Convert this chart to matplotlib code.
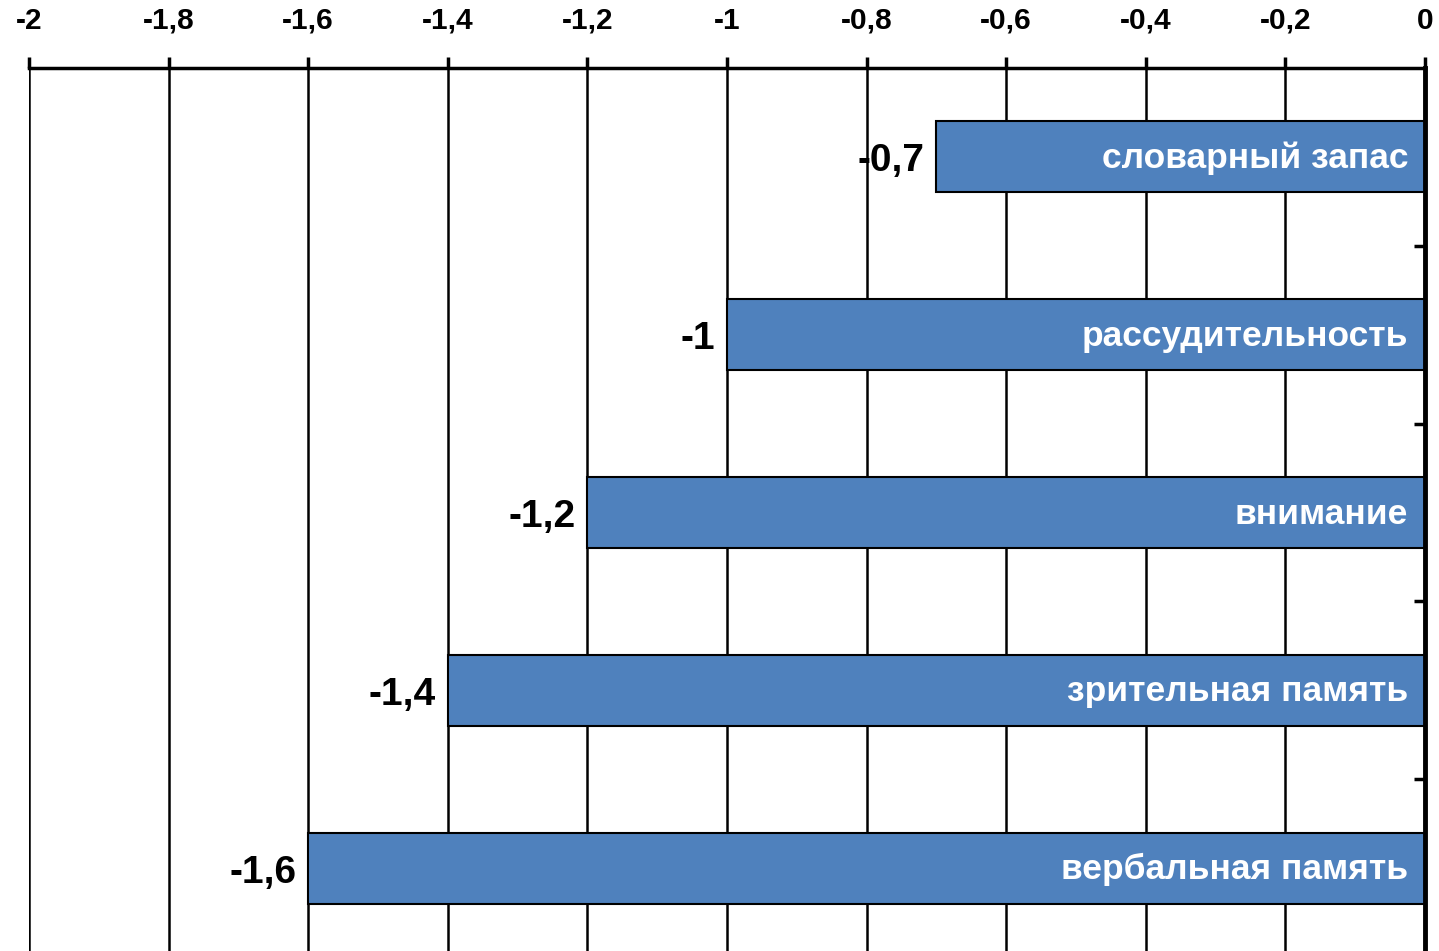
import matplotlib
matplotlib.use("Agg")
import matplotlib.pyplot as plt
from matplotlib.ticker import FuncFormatter, FixedLocator

plt.rcParams["font.family"] = ["Liberation Sans", "DejaVu Sans"]
plt.rcParams["font.weight"] = "bold"

# Scores per cognitive function
categories = ["словарный запас", "рассудительность", "внимание",
              "зрительная память", "вербальная память"]
values = [-0.7, -1.0, -1.2, -1.4, -1.6]
x_ticks = [-2, -1.8, -1.6, -1.4, -1.2, -1, -0.8, -0.6, -0.4, -0.2, 0]


def comma(v, pos=None):
    return f"{v:g}".replace(".", ",")


fig = plt.figure(figsize=(14.39, 9.51), dpi=100)
ax = fig.add_axes([29 / 1439, 1 - 957 / 951, 1396 / 1439, (957 - 68) / 951])

ypos = list(range(len(categories)))
ax.barh(ypos, values, height=0.4, color="#4F81BD", edgecolor="black",
        linewidth=1.5, zorder=3)

for y, v, name in zip(ypos, values, categories):
    # numbers sit to the left of each bar, names inside near the zero line
    ax.text(v - 0.017, y + 0.082, comma(v), ha="right", va="baseline",
            fontsize=28, fontweight="bold", color="black", zorder=4)
    ax.text(-0.024, y + 0.062, name, ha="right", va="baseline",
            fontsize=25.5, fontweight="bold", color="white", zorder=4)

ax.set_xlim(-2, 0)
ax.set_ylim(len(categories) - 0.5, -0.5)

# value axis along the top
ax.xaxis.set_major_locator(FixedLocator(x_ticks))
ax.xaxis.set_major_formatter(FuncFormatter(comma))
ax.xaxis.tick_top()
ax.tick_params(axis="x", direction="out", length=8, width=2.5, pad=16,
               labelsize=21.5)
ax.grid(axis="x", color="black", linewidth=1.8, zorder=0)

# category axis on the right, ticks between bars
ax.yaxis.tick_right()
ax.set_yticks([0.5, 1.5, 2.5, 3.5])
ax.set_yticklabels([])
ax.tick_params(axis="y", direction="in", length=8, width=2.5)

for side in ["left", "bottom"]:
    ax.spines[side].set_visible(False)
ax.spines["top"].set_linewidth(2.5)
ax.spines["right"].set_linewidth(3.5)
ax.spines["right"].set_zorder(5)

fig.savefig("out.png", dpi=100)
